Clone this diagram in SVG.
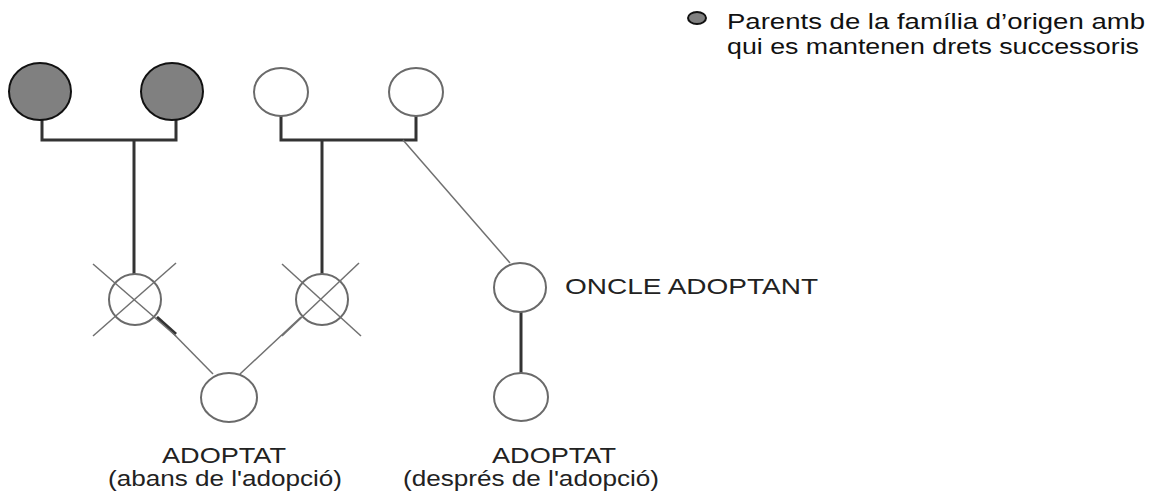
<svg xmlns="http://www.w3.org/2000/svg" width="1155" height="499" viewBox="0 0 1155 499">
<style>
.txt{font-family:"Liberation Sans",Arial,sans-serif;fill:#222}
.leg{font-family:"Liberation Sans",Arial,sans-serif;fill:#111}
.dark{fill:#808080;stroke:#111;stroke-width:2}
.white{fill:#fff;stroke:#6a6a6a;stroke-width:2}
.bar{fill:none;stroke:#333;stroke-width:3}
.thin{fill:none;stroke:#707070;stroke-width:1.5}
</style>
<rect width="1155" height="499" fill="#fff"/>
<g id="connectors">
<polyline class="bar" points="42,120 42,140 176,140 176,120"/>
<line class="bar" x1="134" y1="140" x2="134" y2="274"/>
<polyline class="bar" points="281,116 281,140 416,140 416,116"/>
<line class="bar" x1="322" y1="140" x2="322" y2="274"/>
<line class="thin" x1="403" y1="140" x2="510" y2="263"/>
<line class="thin" x1="157" y1="317" x2="213" y2="374"/>
<line class="bar" x1="157" y1="317" x2="176" y2="334" stroke-width="2"/>
<line class="thin" x1="301" y1="317" x2="240" y2="374"/>
<line class="bar" x1="521" y1="312" x2="521" y2="373"/>
</g>
<g id="legend">
<ellipse class="dark" cx="697" cy="18" rx="9" ry="6"/>
<text class="leg" x="727" y="29" font-size="22" textLength="418" lengthAdjust="spacingAndGlyphs">Parents de la família d’origen amb</text>
<text class="leg" x="727" y="54" font-size="22" textLength="412" lengthAdjust="spacingAndGlyphs">qui es mantenen drets successoris</text>
</g>
<g id="gp1"><ellipse class="dark" cx="40" cy="91.5" rx="31" ry="28.5"/></g>
<g id="gp2"><ellipse class="dark" cx="172" cy="91.5" rx="31" ry="28.5"/></g>
<g id="gp3"><ellipse class="white" cx="281" cy="92" rx="27" ry="24"/></g>
<g id="gp4"><ellipse class="white" cx="416" cy="92" rx="27" ry="24"/></g>
<g id="parent1">
<ellipse class="white" cx="135" cy="299.5" rx="26" ry="25.5"/>
<line class="thin" x1="93" y1="264" x2="176" y2="336"/>
<line class="thin" x1="176" y1="263" x2="93" y2="336"/>
</g>
<g id="parent2">
<ellipse class="white" cx="322" cy="299.5" rx="26" ry="25.5"/>
<line class="thin" x1="282" y1="264" x2="361" y2="336"/>
<line class="thin" x1="359" y1="263" x2="282" y2="336"/>
</g>
<g id="adoptat1">
<ellipse class="white" cx="229" cy="397.5" rx="28" ry="24.5"/>
<text class="txt" x="162" y="463" font-size="22" textLength="124" lengthAdjust="spacingAndGlyphs">ADOPTAT</text>
<text class="txt" x="108" y="486" font-size="22" textLength="234" lengthAdjust="spacingAndGlyphs">(abans de l'adopció)</text>
</g>
<g id="oncle">
<ellipse class="white" cx="520" cy="287.5" rx="26" ry="24.5"/>
<text class="txt" x="565" y="294" font-size="22" textLength="253" lengthAdjust="spacingAndGlyphs">ONCLE ADOPTANT</text>
</g>
<g id="adoptat2">
<ellipse class="white" cx="521" cy="397" rx="27" ry="24"/>
<text class="txt" x="492" y="463" font-size="22" textLength="124" lengthAdjust="spacingAndGlyphs">ADOPTAT</text>
<text class="txt" x="403" y="486" font-size="22" textLength="256" lengthAdjust="spacingAndGlyphs">(després de l'adopció)</text>
</g>
</svg>
